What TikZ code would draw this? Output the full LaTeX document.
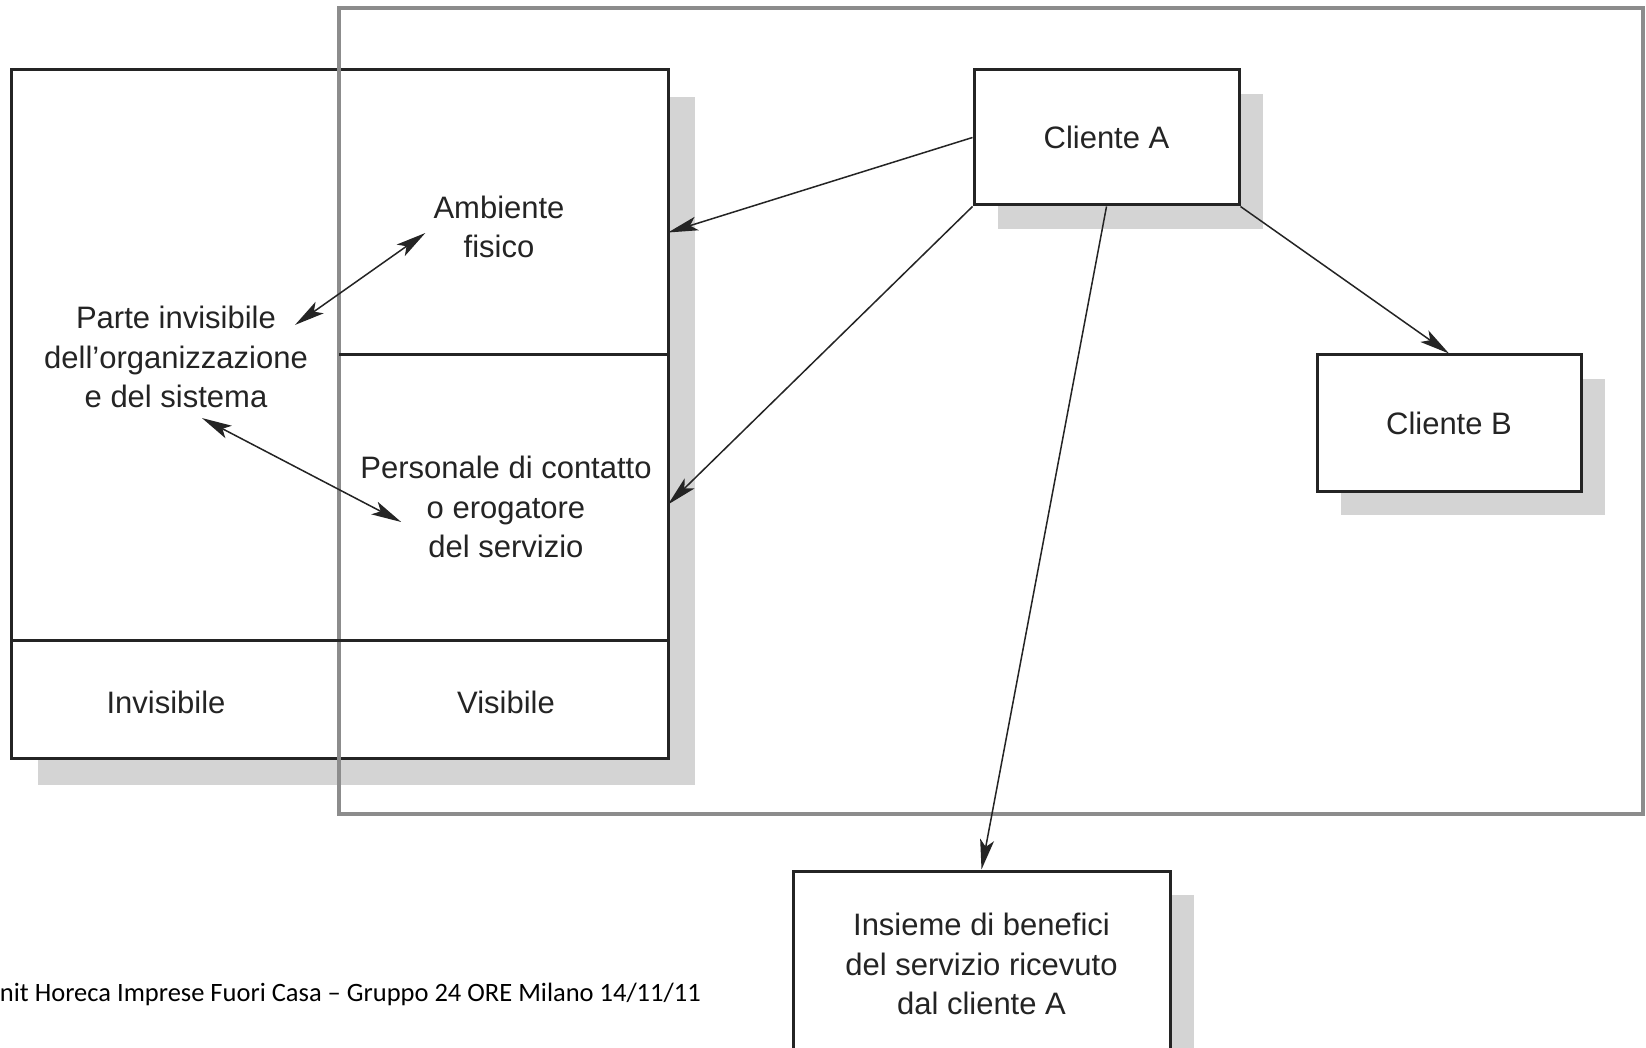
\documentclass[tikz,border=0pt]{standalone}
\usepackage{fontspec}
\setmainfont{Liberation Sans}
\newfontfamily\footfont{Carlito}
\usetikzlibrary{arrows.meta,shadows,calc}
\definecolor{ink}{HTML}{242424}
\definecolor{framec}{HTML}{8C8C8C}
\definecolor{shadowc}{HTML}{D4D4D4}
\tikzset{
  txt/.style={inner sep=0pt, align=center, text=ink, font=\fontsize{31}{39.5}\selectfont},
  boxnode/.style={draw=ink, line width=3pt, fill=white, inner sep=0pt,
    drop shadow={shadow xshift=#1, shadow yshift=-#1, fill=shadowc, opacity=1}},
  boxnode/.default=24pt,
  cell/.style={inner sep=0pt, outer sep=0pt},
  divider/.style={draw=ink, line width=3pt},
  conn/.style={draw=ink, line width=1.5pt, -{Stealth[length=30pt,width=14pt,inset=7pt]}},
  dconn/.style={draw=ink, line width=1.5pt, {Stealth[length=30pt,width=14pt,inset=7pt]}-{Stealth[length=30pt,width=14pt,inset=7pt]}},
}
\begin{document}
\begin{tikzpicture}[x=1pt,y=-1pt]
\useasboundingbox (0,0) rectangle (1646,1048);
\clip (0,0) rectangle (1646,1048);
\fill[white] (0,0) rectangle (1646,1048);

% left block
\node[boxnode=27pt, minimum width=657pt, minimum height=688pt] (leftbox) at (339.5,414) {};
% outer frame
\node[draw=framec, line width=4pt, inner sep=0pt, minimum width=1304pt, minimum height=806pt] (frame) at (991,411) {};

% cells of the left block
\node[cell, minimum width=329pt, minimum height=285pt] (ambcell) at (503.5,212.5) {};
\node[cell, minimum width=329pt, minimum height=285pt] (perscell) at (503.5,497.5) {};
\node[cell, minimum width=328pt, minimum height=118pt] (invcell) at (175,699) {};
\node[cell, minimum width=329pt, minimum height=118pt] (viscell) at (503.5,699) {};
\draw[divider] (ambcell.south west) -- (ambcell.south east);
\draw[divider] (invcell.north west) -- (viscell.north east);

% texts in the left block
\node[txt] (parte) at (176,357) {Parte invisibile\\dell’organizzazione\\e del sistema};
\node[txt] (amb) at (499,227) {Ambiente\\fisico};
\node[txt] (pers) at (506,507) {Personale di contatto\\o erogatore\\del servizio};
\node[txt] (inv) at (166,702) {Invisibile};
\node[txt] (vis) at (506,702) {Visibile};

% clients and benefits
\node[boxnode, txt, minimum width=265pt, minimum height=135pt] (ca) at (1106.5,137.5) {Cliente A};
\node[boxnode, txt, minimum width=264pt, minimum height=136pt] (cb) at (1449,423) {Cliente B};
\node[boxnode, txt, minimum width=377pt, minimum height=186pt] (ins) at (981.5,964) {Insieme di benefici\\del servizio ricevuto\\dal cliente A};

% connectors
\draw[conn] (ca.west) -- ([yshift=-20pt]ambcell.east);
\draw[conn] (ca.south west) -- ([yshift=-7pt]perscell.east);
\draw[conn] (ca.south east) -- (cb.north);
\draw[conn] (ca.south) -- (ins.north);
\draw[dconn] ([xshift=-13pt,yshift=-19pt]parte.north east) -- ([xshift=-8pt,yshift=-6pt]amb.west);
\draw[dconn] ([xshift=26pt,yshift=-10pt]parte.south) -- ([xshift=41pt,yshift=-15pt]pers.west);

% footer
\node[inner sep=0pt, anchor=base east, text=black, font=\footfont\fontsize{26.5}{30}\selectfont] (foot) at (701,1001) {nit Horeca Imprese Fuori Casa – Gruppo 24 ORE Milano 14/11/11};
\end{tikzpicture}
\end{document}
